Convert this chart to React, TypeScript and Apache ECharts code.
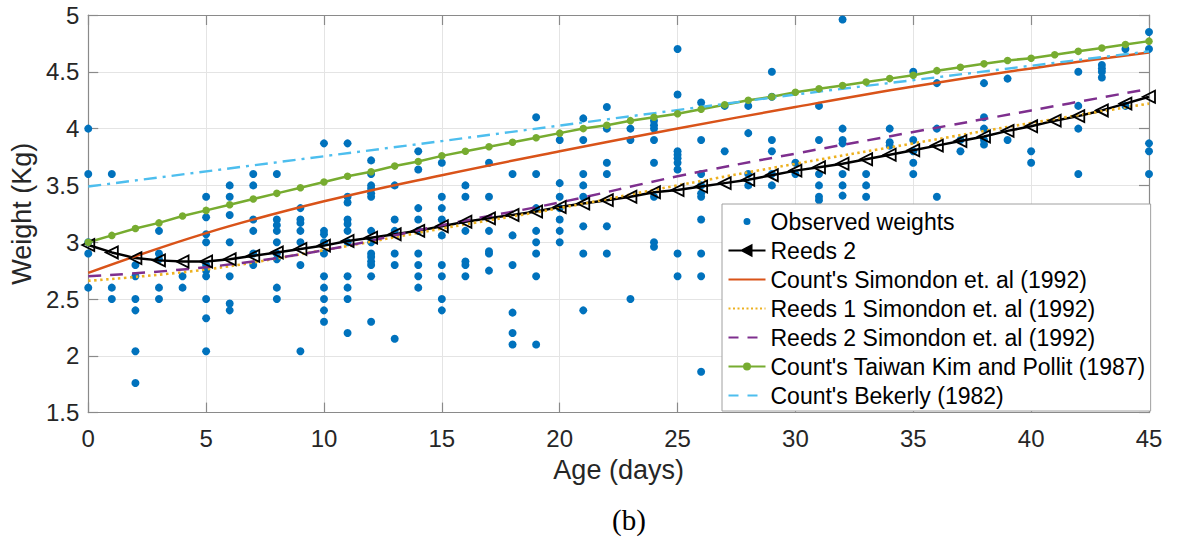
import React, { useEffect, useRef } from 'react';
import * as echarts from 'echarts';

// ---------- data ----------
const xTicks = { min: 0, max: 45, interval: 5 };
const yTicks = { min: 1.5, max: 5, interval: 0.5 };

const observedDays = [
  0, 1, 2, 3, 4, 5, 6, 7, 8, 9, 10, 11, 12, 13, 14, 15, 16, 17, 18, 19, 20, 21, 22,
  23, 24, 25, 26, 27, 28, 29, 30, 31, 32, 33, 34, 35, 36, 37, 38, 39, 40, 42, 43, 44, 45,
];
const observedWeights: number[][] = [
  [4.0, 3.6, 3.0, 2.9, 2.6],
  [3.6, 2.6, 2.5],
  [2.8, 2.7, 2.5, 2.4, 2.04, 1.76],
  [3.1, 2.9, 2.85, 2.6, 2.5],
  [2.7, 2.6],
  [3.4, 3.22, 3.07, 3.0, 2.8, 2.75, 2.7, 2.5, 2.33, 2.04],
  [3.5, 3.4, 3.24, 3.0, 2.7, 2.46, 2.4],
  [3.6, 3.5, 3.2, 3.1, 2.9, 2.8],
  [3.6, 3.2, 3.15, 3.1, 3.0, 2.9, 2.85, 2.6, 2.5],
  [3.3, 3.2, 3.17, 3.1, 3.0, 2.8, 2.04],
  [3.87, 3.1, 3.07, 3.0, 2.9, 2.7, 2.6, 2.5, 2.4, 2.3],
  [3.87, 3.4, 3.35, 3.2, 3.16, 3.1, 3.0, 2.7, 2.6, 2.5, 2.2],
  [3.72, 3.6, 3.5, 3.47, 3.43, 3.4, 3.1, 3.0, 2.9, 2.87, 2.83, 2.8, 2.7, 2.3],
  [3.5, 3.2, 3.1, 2.9, 2.8, 2.15],
  [3.8, 3.64, 3.3, 3.2, 3.1, 2.9, 2.8, 2.7, 2.6],
  [3.7, 3.4, 3.3, 3.2, 3.06, 2.8, 2.7, 2.5, 2.4],
  [3.5, 3.4, 3.1, 2.83, 2.8, 2.7],
  [3.7, 3.4, 3.1, 2.92, 2.9, 2.75],
  [3.6, 3.06, 2.8, 2.38, 2.2, 2.1],
  [4.1, 3.6, 3.3, 3.1, 3.0, 2.9, 2.7, 2.1],
  [3.9, 3.52, 3.4, 3.3, 3.2, 3.1, 3.0],
  [4.09, 3.9, 3.6, 3.5, 3.4, 3.14, 2.9, 2.4],
  [4.19, 4.0, 3.7, 3.6, 3.14, 2.9],
  [4.0, 3.9, 2.5],
  [4.07, 4.03, 4.0, 3.9, 3.7, 3.4, 3.0, 2.96],
  [4.7, 4.3, 3.8, 3.77, 3.74, 3.7, 3.64, 2.9, 2.7],
  [4.23, 3.9, 3.6, 3.5, 3.43, 3.4, 3.2, 2.9, 2.7, 1.86],
  [4.2, 3.8],
  [4.2, 3.96, 3.6, 3.5],
  [4.5, 4.28, 3.9, 3.8, 3.6, 3.5],
  [3.7, 3.6],
  [4.2, 3.9, 3.6, 3.5, 3.4, 3.37],
  [4.96, 4.0, 3.9, 3.87, 3.6, 3.5, 3.41],
  [3.6, 3.5, 3.4],
  [4.0, 3.88, 3.85],
  [4.5, 3.9, 3.8, 3.7, 3.6],
  [4.4, 4.0, 3.4],
  [3.9, 3.8],
  [4.4, 4.1, 4.0, 3.9, 3.86],
  [4.44, 3.9],
  [3.8, 3.7],
  [4.5, 4.2, 4.0, 3.6],
  [4.56, 4.53, 4.5, 4.45],
  [4.7, 4.2],
  [4.85, 4.7, 3.87, 3.8, 3.6],
];

const allDays = [
  0, 1, 2, 3, 4, 5, 6, 7, 8, 9, 10, 11, 12, 13, 14, 15, 16, 17, 18, 19, 20, 21, 22,
  23, 24, 25, 26, 27, 28, 29, 30, 31, 32, 33, 34, 35, 36, 37, 38, 39, 40, 41, 42, 43, 44, 45,
];
const reeds2Weights = [
  2.975, 2.91, 2.86, 2.84, 2.83, 2.83, 2.85, 2.88, 2.91, 2.94, 2.97, 3.01, 3.04, 3.07,
  3.1, 3.14, 3.18, 3.21, 3.24, 3.27, 3.31, 3.34, 3.37, 3.4, 3.44, 3.46, 3.49, 3.52, 3.55,
  3.59, 3.63, 3.66, 3.69, 3.73, 3.77, 3.81, 3.85, 3.89, 3.93, 3.98, 4.02, 4.07, 4.11,
  4.16, 4.22, 4.28,
];
const taiwanWeights = [
  3.0, 3.06, 3.12, 3.17, 3.23, 3.28, 3.33, 3.38, 3.43, 3.48, 3.53, 3.58, 3.62, 3.67,
  3.71, 3.76, 3.8, 3.84, 3.88, 3.92, 3.96, 4.0, 4.03, 4.07, 4.1, 4.13, 4.17, 4.21, 4.25,
  4.28, 4.32, 4.35, 4.38, 4.41, 4.44, 4.47, 4.51, 4.54, 4.57, 4.6, 4.62, 4.65, 4.68,
  4.71, 4.74, 4.77,
];
const curveDays = [0, 5, 10, 15, 20, 25, 30, 35, 40, 45];
const simondonCount = [2.73, 3.08, 3.36, 3.59, 3.8, 4.0, 4.19, 4.37, 4.53, 4.67];
const simondonReeds1 = [2.66, 2.76, 2.93, 3.12, 3.3, 3.5, 3.69, 3.87, 4.05, 4.22];
const simondonReeds2 = [2.7, 2.78, 2.93, 3.15, 3.35, 3.58, 3.78, 3.97, 4.16, 4.35];
const bekerlyDays = [0, 15, 30, 45];
const bekerlyWeights = [3.49, 3.89, 4.3, 4.68];

const seriesNames = [
  'Observed weights',
  'Reeds 2',
  "Count's Simondon et. al (1992)",
  'Reeds 1 Simondon et. al (1992)',
  'Reeds 2 Simondon et. al (1992)',
  "Count's Taiwan Kim and Pollit (1987)",
  "Count's Bekerly (1982)",
];

// ---------- styling ----------
const C_BLUE = '#0072BD';
const C_ORANGE = '#D95319';
const C_YELLOW = '#EDB120';
const C_PURPLE = '#7E2F8E';
const C_GREEN = '#77AC30';
const C_CYAN = '#4DBEEE';
const FRAME = '#8a8a8a';
const GRID = '#e4e4e4';
const FONT = "'Liberation Sans', Arial, Helvetica, sans-serif";

const zip = (xs: number[], ys: number[]) => xs.map((x, i) => [x, ys[i]]);

const box = 'M0,0 M37,14 ';
const lineIcon = 'path://' + box + 'M0,7 L37,7';
const dotIcon = 'path://' + box + 'M15,7 A3.5,3.5 0 1 1 22,7 A3.5,3.5 0 1 1 15,7 Z';
const greenIcon = 'path://' + box + 'M0,7 L37,7 M15.5,7 A3,3 0 1 1 21.5,7 A3,3 0 1 1 15.5,7 Z';
const triIcon = 'path://' + box + 'M0,7 L37,7 M13.5,7 L23,2 L23,12 Z';

export default function App() {
  const ref = useRef<HTMLDivElement>(null);

  useEffect(() => {
    if (!ref.current) return;
    const chart = echarts.init(ref.current, undefined, { renderer: 'svg' });

    const scatterData: number[][] = [];
    observedDays.forEach((d, i) => {
      observedWeights[i].forEach((w) => scatterData.push([d, w]));
    });

    const baseX = {
      type: 'value',
      min: xTicks.min,
      max: xTicks.max,
      interval: xTicks.interval,
      axisLine: { show: true, onZero: false, lineStyle: { color: FRAME, width: 1.2 } },
      axisTick: { show: true, inside: true, length: 10, lineStyle: { color: FRAME, width: 1.2 } },
    };
    const baseY = {
      type: 'value',
      min: yTicks.min,
      max: yTicks.max,
      interval: yTicks.interval,
      axisLine: { show: true, onZero: false, lineStyle: { color: FRAME, width: 1.2 } },
      axisTick: { show: true, inside: true, length: 10, lineStyle: { color: FRAME, width: 1.2 } },
    };

    chart.setOption({
      animation: false,
      backgroundColor: '#ffffff',
      grid: { left: 86, right: 31, top: 15, bottom: 137.4, containLabel: false },
      xAxis: [
        {
          ...baseX,
          position: 'bottom',
          name: 'Age (days)',
          nameLocation: 'middle',
          nameGap: 44,
          nameTextStyle: { fontFamily: FONT, fontSize: 27, color: '#262626' },
          axisLabel: { fontFamily: FONT, fontSize: 24, color: '#262626', margin: 14 },
          splitLine: { show: true, lineStyle: { color: GRID, width: 1 } },
        },
        {
          ...baseX,
          position: 'top',
          axisLabel: { show: false },
          splitLine: { show: false },
        },
      ],
      yAxis: [
        {
          ...baseY,
          position: 'left',
          name: 'Weight (Kg)',
          nameLocation: 'middle',
          nameRotate: 90,
          nameGap: 42,
          nameTextStyle: { fontFamily: FONT, fontSize: 27, color: '#262626' },
          axisLabel: { fontFamily: FONT, fontSize: 24, color: '#262626', margin: 9 },
          splitLine: { show: true, lineStyle: { color: GRID, width: 1 } },
        },
        {
          ...baseY,
          position: 'right',
          axisLabel: { show: false },
          splitLine: { show: false },
        },
      ],
      legend: {
        orient: 'vertical',
        left: 722,
        top: 204,
        padding: [6, 5, 4, 4],
        itemWidth: 37,
        itemHeight: 14,
        itemGap: 6,
        backgroundColor: '#ffffff',
        borderColor: '#a0a0a0',
        borderWidth: 1,
        borderRadius: 0,
        selectedMode: false,
        textStyle: { fontFamily: FONT, fontSize: 23, lineHeight: 23, color: '#000000', padding: [0, 0, 0, 0] },
        data: [
          { name: seriesNames[0], icon: dotIcon, itemStyle: { color: C_BLUE, borderWidth: 0 } },
          { name: seriesNames[1], icon: triIcon, itemStyle: { color: '#000', borderColor: '#000', borderWidth: 2 } },
          { name: seriesNames[2], icon: lineIcon, itemStyle: { color: 'none', borderColor: C_ORANGE, borderWidth: 2 } },
          { name: seriesNames[3], icon: lineIcon, itemStyle: { color: 'none', borderColor: C_YELLOW, borderWidth: 2.2, borderType: [2, 2.5] } },
          { name: seriesNames[4], icon: lineIcon, itemStyle: { color: 'none', borderColor: C_PURPLE, borderWidth: 2.2, borderType: [10, 9] } },
          { name: seriesNames[5], icon: greenIcon, itemStyle: { color: C_GREEN, borderColor: C_GREEN, borderWidth: 2 } },
          { name: seriesNames[6], icon: lineIcon, itemStyle: { color: 'none', borderColor: C_CYAN, borderWidth: 2.2, borderType: [10, 9] } },
        ],
      },
      series: [
        {
          name: seriesNames[0],
          type: 'scatter',
          data: scatterData,
          symbol: 'circle',
          symbolSize: 8,
          itemStyle: { color: C_BLUE, opacity: 1 },
          z: 2,
        },
        {
          name: seriesNames[1],
          type: 'line',
          data: zip(allDays, reeds2Weights),
          symbol: 'triangle',
          symbolRotate: 90,
          symbolSize: 12,
          showSymbol: true,
          lineStyle: { color: '#000', width: 2.5 },
          itemStyle: { color: 'rgba(255,255,255,0)', borderColor: '#000', borderWidth: 1.8 },
          z: 3,
        },
        {
          name: seriesNames[2],
          type: 'line',
          data: zip(curveDays, simondonCount),
          smooth: 0.4,
          symbol: 'none',
          lineStyle: { color: C_ORANGE, width: 2.5 },
          itemStyle: { color: C_ORANGE },
          z: 3,
        },
        {
          name: seriesNames[3],
          type: 'line',
          data: zip(curveDays, simondonReeds1),
          smooth: 0.4,
          symbol: 'none',
          lineStyle: { color: C_YELLOW, width: 2.6, type: [2.5, 3.5] },
          itemStyle: { color: C_YELLOW },
          z: 3,
        },
        {
          name: seriesNames[4],
          type: 'line',
          data: zip(curveDays, simondonReeds2),
          smooth: 0.4,
          symbol: 'none',
          lineStyle: { color: C_PURPLE, width: 2.5, type: [13, 9] },
          itemStyle: { color: C_PURPLE },
          z: 3,
        },
        {
          name: seriesNames[5],
          type: 'line',
          data: zip(allDays, taiwanWeights),
          symbol: 'circle',
          symbolSize: 7.5,
          showSymbol: true,
          lineStyle: { color: C_GREEN, width: 2.5 },
          itemStyle: { color: C_GREEN },
          z: 3,
        },
        {
          name: seriesNames[6],
          type: 'line',
          data: zip(bekerlyDays, bekerlyWeights),
          symbol: 'none',
          lineStyle: { color: C_CYAN, width: 2.4, type: [13, 6, 3, 6] },
          itemStyle: { color: C_CYAN },
          z: 3,
        },
      ],
      graphic: [
        {
          type: 'text',
          left: 612,
          top: 505,
          style: {
            text: '(b)',
            fontFamily: "'Liberation Serif', 'DejaVu Serif', serif",
            fontSize: 29,
            fill: '#000',
          },
        },
      ],
    });

    return () => chart.dispose();
  }, []);

  return (
    <div
      ref={ref}
      style={{ position: 'absolute', left: 0, top: 0, width: 1180, height: 550 }}
    />
  );
}
